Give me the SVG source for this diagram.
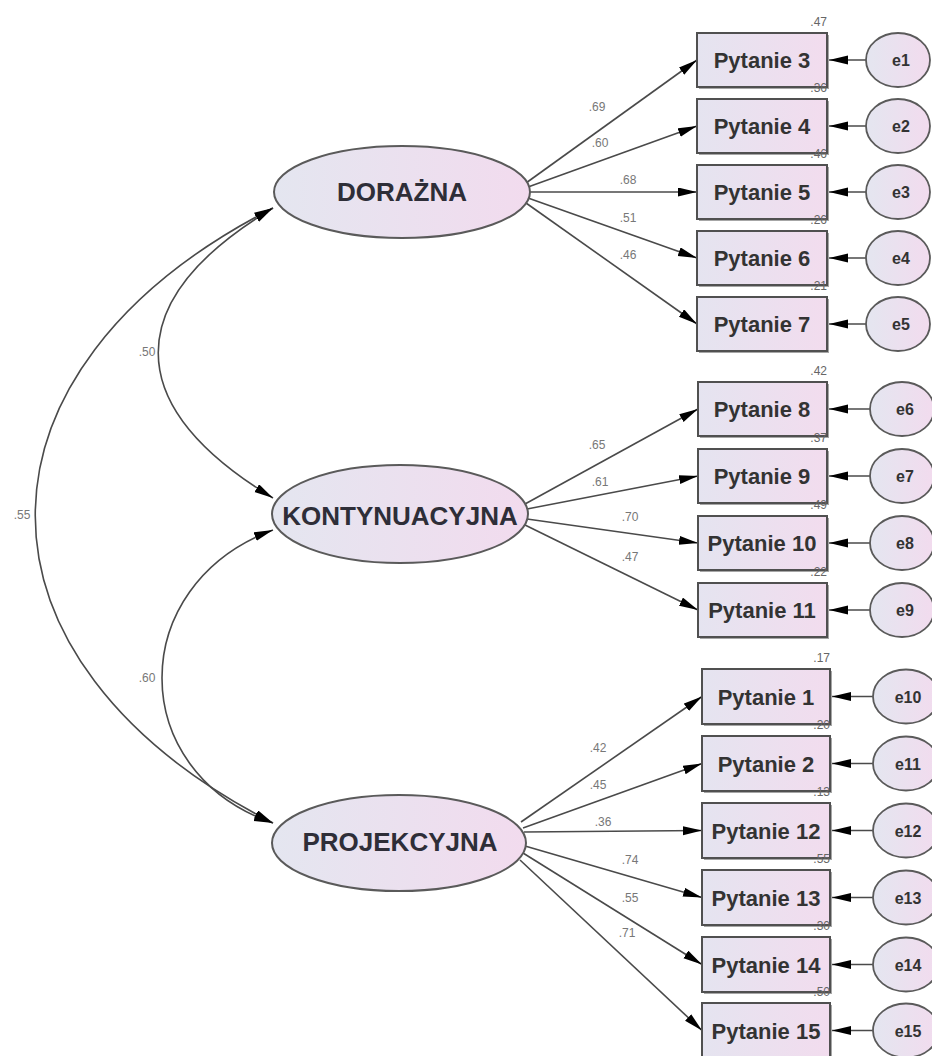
<svg xmlns="http://www.w3.org/2000/svg" width="932" height="1056" viewBox="0 0 932 1056">
<defs>
<linearGradient id="gBox" x1="0" y1="0" x2="1" y2="0"><stop offset="0" stop-color="#e5e4f0"/><stop offset="1" stop-color="#f2dcee"/></linearGradient>
<linearGradient id="gEll" x1="0" y1="0" x2="1" y2="0"><stop offset="0" stop-color="#e4e6f0"/><stop offset="1" stop-color="#f2dbee"/></linearGradient>
<marker id="ah" markerUnits="userSpaceOnUse" markerWidth="20" markerHeight="10" refX="19" refY="4.5" orient="auto-start-reverse"><path d="M0,0 L19,4.5 L0,9 z" fill="#000"/></marker>
<style>
.box{fill:url(#gBox);stroke:#505050;stroke-width:2}
.sh{fill:#a6a6a6}
.lat{fill:url(#gEll);stroke:#5a5a5a;stroke-width:2}
.err{fill:url(#gEll);stroke:#5a5a5a;stroke-width:1.8}
.bt{font-family:"Liberation Sans",Arial,sans-serif;font-weight:bold;font-size:22px;fill:#333;text-anchor:middle}
.lt{font-family:"Liberation Sans",Arial,sans-serif;font-weight:bold;font-size:26px;fill:#2e2e38;text-anchor:middle}
.et{font-family:"Liberation Sans",Arial,sans-serif;font-weight:bold;font-size:16px;fill:#333;text-anchor:middle}
.num{font-family:"Liberation Sans",Arial,sans-serif;font-size:12px;fill:#777;text-anchor:middle}
.r2{font-family:"Liberation Sans",Arial,sans-serif;font-size:12px;fill:#666;text-anchor:end}
.p{fill:none;stroke:#4a4a4a;stroke-width:1.6;marker-end:url(#ah)}
.c{fill:none;stroke:#4a4a4a;stroke-width:1.6;marker-start:url(#ah);marker-end:url(#ah)}
</style>
</defs>
<rect width="932" height="1056" fill="#fff"/>

<g id="connectors">
<path class="c" d="M273,208 C120,300 120,405 273,498"/>
<path class="c" d="M273,208 C-44,370 -44,661 273,823"/>
<path class="c" d="M273,530 C125,585 125,772 273,823"/>
<text class="num" x="147" y="356">.50</text>
<text class="num" x="22" y="519">.55</text>
<text class="num" x="147" y="682">.60</text>

<line class="p" x1="526" y1="183" x2="697" y2="60"/>
<line class="p" x1="528" y1="187" x2="697" y2="126"/>
<line class="p" x1="530" y1="192" x2="697" y2="192"/>
<line class="p" x1="528" y1="198" x2="697" y2="258"/>
<line class="p" x1="526" y1="203" x2="697" y2="324"/>
<text class="num" x="597" y="111">.69</text>
<text class="num" x="600" y="147">.60</text>
<text class="num" x="628" y="184">.68</text>
<text class="num" x="628" y="222">.51</text>
<text class="num" x="628" y="259">.46</text>

<line class="p" x1="525" y1="504" x2="698" y2="409"/>
<line class="p" x1="527" y1="509" x2="698" y2="476"/>
<line class="p" x1="527" y1="519" x2="698" y2="543"/>
<line class="p" x1="525" y1="525" x2="698" y2="610"/>
<text class="num" x="597" y="449">.65</text>
<text class="num" x="600" y="486">.61</text>
<text class="num" x="630" y="521">.70</text>
<text class="num" x="630" y="561">.47</text>

<line class="p" x1="521" y1="822" x2="702" y2="696.5"/>
<line class="p" x1="523" y1="828" x2="702" y2="763.5"/>
<line class="p" x1="524" y1="832" x2="702" y2="830.5"/>
<line class="p" x1="525" y1="846" x2="702" y2="897.5"/>
<line class="p" x1="523" y1="853" x2="702" y2="964.5"/>
<line class="p" x1="520" y1="860" x2="702" y2="1030.5"/>
<text class="num" x="598" y="752">.42</text>
<text class="num" x="598" y="789">.45</text>
<text class="num" x="603" y="826">.36</text>
<text class="num" x="630" y="864">.74</text>
<text class="num" x="630" y="902">.55</text>
<text class="num" x="627" y="937">.71</text>

<line class="p" x1="866" y1="60" x2="829" y2="60"/>
<line class="p" x1="866" y1="126" x2="829" y2="126"/>
<line class="p" x1="866" y1="192" x2="829" y2="192"/>
<line class="p" x1="866" y1="258" x2="829" y2="258"/>
<line class="p" x1="866" y1="324" x2="829" y2="324"/>
<line class="p" x1="870" y1="409" x2="829" y2="409"/>
<line class="p" x1="870" y1="476" x2="829" y2="476"/>
<line class="p" x1="870" y1="543" x2="829" y2="543"/>
<line class="p" x1="870" y1="610" x2="829" y2="610"/>
<line class="p" x1="873" y1="696.5" x2="832" y2="696.5"/>
<line class="p" x1="873" y1="763.5" x2="832" y2="763.5"/>
<line class="p" x1="873" y1="830.5" x2="832" y2="830.5"/>
<line class="p" x1="873" y1="897.5" x2="832" y2="897.5"/>
<line class="p" x1="873" y1="964.5" x2="832" y2="964.5"/>
<line class="p" x1="873" y1="1030.5" x2="832" y2="1030.5"/>
</g>

<g id="DORAZNA"><ellipse class="lat" cx="402" cy="192" rx="128" ry="46"/><text class="lt" x="402" y="201">DORAŻNA</text></g>
<g id="KONTYNUACYJNA"><ellipse class="lat" cx="400" cy="514" rx="128" ry="49"/><text class="lt" x="400" y="525">KONTYNUACYJNA</text></g>
<g id="PROJEKCYJNA"><ellipse class="lat" cx="399" cy="843" rx="127" ry="48"/><text class="lt" x="400" y="851">PROJEKCYJNA</text></g>

<g id="P3"><rect class="sh" x="699" y="35" width="130" height="54"/><rect class="box" x="697" y="33" width="130" height="54"/><text class="bt" x="762" y="68">Pytanie 3</text><text class="r2" x="827" y="26">.47</text></g>
<g id="P4"><rect class="sh" x="699" y="101" width="130" height="54"/><rect class="box" x="697" y="99" width="130" height="54"/><text class="bt" x="762" y="134">Pytanie 4</text><text class="r2" x="827" y="92">.36</text></g>
<g id="P5"><rect class="sh" x="699" y="167" width="130" height="54"/><rect class="box" x="697" y="165" width="130" height="54"/><text class="bt" x="762" y="200">Pytanie 5</text><text class="r2" x="827" y="158">.46</text></g>
<g id="P6"><rect class="sh" x="699" y="233" width="130" height="54"/><rect class="box" x="697" y="231" width="130" height="54"/><text class="bt" x="762" y="266">Pytanie 6</text><text class="r2" x="827" y="224">.26</text></g>
<g id="P7"><rect class="sh" x="699" y="299" width="130" height="54"/><rect class="box" x="697" y="297" width="130" height="54"/><text class="bt" x="762" y="332">Pytanie 7</text><text class="r2" x="827" y="290">.21</text></g>

<g id="P8"><rect class="sh" x="700" y="384" width="129" height="54"/><rect class="box" x="698" y="382" width="129" height="54"/><text class="bt" x="762" y="417">Pytanie 8</text><text class="r2" x="827" y="375">.42</text></g>
<g id="P9"><rect class="sh" x="700" y="451" width="129" height="54"/><rect class="box" x="698" y="449" width="129" height="54"/><text class="bt" x="762" y="484">Pytanie 9</text><text class="r2" x="827" y="442">.37</text></g>
<g id="P10"><rect class="sh" x="700" y="518" width="129" height="54"/><rect class="box" x="698" y="516" width="129" height="54"/><text class="bt" x="762" y="551">Pytanie 10</text><text class="r2" x="827" y="509">.49</text></g>
<g id="P11"><rect class="sh" x="700" y="585" width="129" height="54"/><rect class="box" x="698" y="583" width="129" height="54"/><text class="bt" x="762" y="618">Pytanie 11</text><text class="r2" x="827" y="576">.22</text></g>

<g id="P1"><rect class="sh" x="704" y="671" width="128" height="55"/><rect class="box" x="702" y="669" width="128" height="55"/><text class="bt" x="766" y="704.5">Pytanie 1</text><text class="r2" x="830" y="662">.17</text></g>
<g id="P2"><rect class="sh" x="704" y="738" width="128" height="55"/><rect class="box" x="702" y="736" width="128" height="55"/><text class="bt" x="766" y="771.5">Pytanie 2</text><text class="r2" x="830" y="729">.20</text></g>
<g id="P12"><rect class="sh" x="704" y="805" width="128" height="55"/><rect class="box" x="702" y="803" width="128" height="55"/><text class="bt" x="766" y="838.5">Pytanie 12</text><text class="r2" x="830" y="796">.13</text></g>
<g id="P13"><rect class="sh" x="704" y="872" width="128" height="55"/><rect class="box" x="702" y="870" width="128" height="55"/><text class="bt" x="766" y="905.5">Pytanie 13</text><text class="r2" x="830" y="863">.55</text></g>
<g id="P14"><rect class="sh" x="704" y="939" width="128" height="55"/><rect class="box" x="702" y="937" width="128" height="55"/><text class="bt" x="766" y="972.5">Pytanie 14</text><text class="r2" x="830" y="930">.30</text></g>
<g id="P15"><rect class="sh" x="704" y="1005" width="128" height="55"/><rect class="box" x="702" y="1003" width="128" height="55"/><text class="bt" x="766" y="1038.5">Pytanie 15</text><text class="r2" x="830" y="996">.50</text></g>

<g id="e1"><ellipse class="err" cx="898" cy="60" rx="32" ry="27"/><text class="et" x="901" y="66">e1</text></g>
<g id="e2"><ellipse class="err" cx="898" cy="126" rx="32" ry="27"/><text class="et" x="901" y="132">e2</text></g>
<g id="e3"><ellipse class="err" cx="898" cy="192" rx="32" ry="27"/><text class="et" x="901" y="198">e3</text></g>
<g id="e4"><ellipse class="err" cx="898" cy="258" rx="32" ry="27"/><text class="et" x="901" y="264">e4</text></g>
<g id="e5"><ellipse class="err" cx="898" cy="324" rx="32" ry="27"/><text class="et" x="901" y="330">e5</text></g>
<g id="e6"><ellipse class="err" cx="902" cy="409" rx="32" ry="27"/><text class="et" x="905" y="415">e6</text></g>
<g id="e7"><ellipse class="err" cx="902" cy="476" rx="32" ry="27"/><text class="et" x="905" y="482">e7</text></g>
<g id="e8"><ellipse class="err" cx="902" cy="543" rx="32" ry="27"/><text class="et" x="905" y="549">e8</text></g>
<g id="e9"><ellipse class="err" cx="902" cy="610" rx="32" ry="27"/><text class="et" x="905" y="616">e9</text></g>
<g id="e10"><ellipse class="err" cx="906" cy="696.5" rx="33" ry="27"/><text class="et" x="908" y="702.5">e10</text></g>
<g id="e11"><ellipse class="err" cx="906" cy="763.5" rx="33" ry="27"/><text class="et" x="908" y="769.5">e11</text></g>
<g id="e12"><ellipse class="err" cx="906" cy="830.5" rx="33" ry="27"/><text class="et" x="908" y="836.5">e12</text></g>
<g id="e13"><ellipse class="err" cx="906" cy="897.5" rx="33" ry="27"/><text class="et" x="908" y="903.5">e13</text></g>
<g id="e14"><ellipse class="err" cx="906" cy="964.5" rx="33" ry="27"/><text class="et" x="908" y="970.5">e14</text></g>
<g id="e15"><ellipse class="err" cx="906" cy="1030.5" rx="33" ry="27"/><text class="et" x="908" y="1036.5">e15</text></g>
</svg>
